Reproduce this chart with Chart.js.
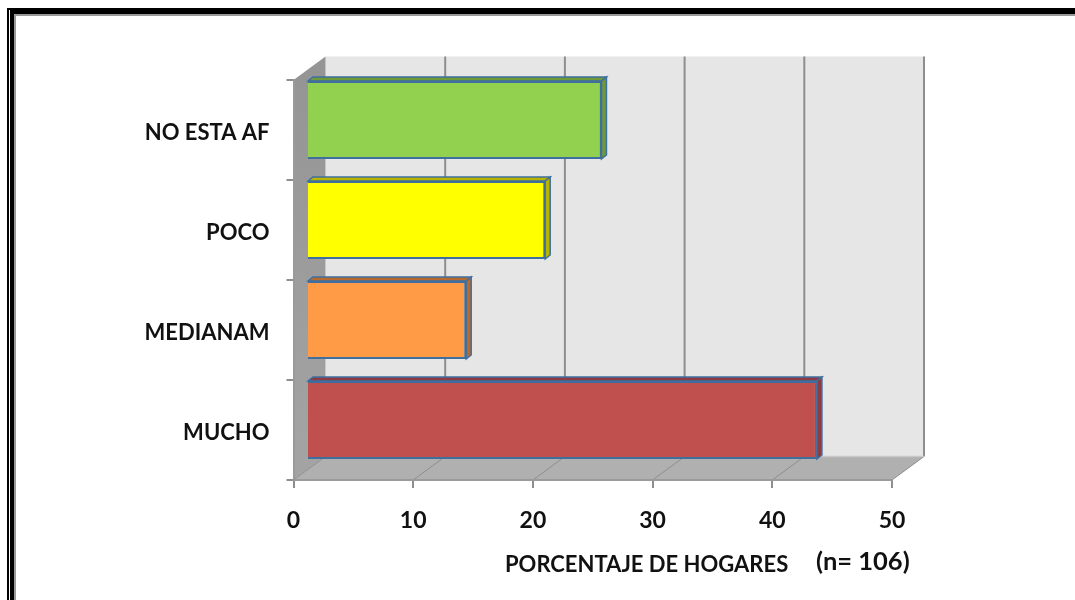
<!DOCTYPE html>
<html>
<head>
<meta charset="utf-8">
<title>Porcentaje de hogares</title>
<script src="https://cdn.jsdelivr.net/npm/chart.js@4"></script>
<style>
    html, body { margin: 0; padding: 0; background: #fff; overflow: hidden; }
    #wrap { position: relative; width: 1075px; height: 600px; }
    #wrap canvas { position: absolute; left: 0; top: 0; }
    .frame { position: absolute; }
</style>
</head>
<body>
<div id="wrap">
    <canvas id="chart" width="1075" height="600"></canvas>
    <!-- marco negro de la imagen -->
    <div class="frame" style="left:7px;top:8px;width:1068px;height:6px;background:#000"></div>
    <div class="frame" style="left:14px;top:14px;width:1061px;height:2px;background:#999"></div>
    <div class="frame" style="left:7px;top:8px;width:7px;height:592px;background:#000"></div>
    <div class="frame" style="left:9px;top:10px;width:1px;height:590px;background:#fff"></div>
    <div class="frame" style="left:14px;top:14px;width:2px;height:586px;background:#999"></div>
</div>
<script>
const categories = ['NO ESTA AF', 'POCO', 'MEDIANAM', 'MUCHO'];
const values = [24.6, 19.9, 13.3, 42.6];
const faceColors = ['#92D050', '#FFFF00', '#FF9A46', '#C0504D'];
const capColors = ['#6E9A38', '#B8B400', '#B86A2E', '#8C3A44'];
const xTicks = [0, 10, 20, 30, 40, 50];
const axisTitle = 'PORCENTAJE DE HOGARES';
const sampleNote = '(n= 106)';

const FONT = 'Lato, "Open Sans", sans-serif';
const wallDx = 32, wallDy = 23.5; // profundidad de las paredes
const barDx = 13.5, barDy = 10;   // las barras van a media profundidad
const capDx = 5, capDy = 4;       // grosor de la barra

function poly(ctx, pts, fill) {
    ctx.beginPath();
    pts.forEach(function (p, i) {
        if (i === 0) ctx.moveTo(p[0], p[1]); else ctx.lineTo(p[0], p[1]);
    });
    ctx.closePath();
    ctx.fillStyle = fill;
    ctx.fill();
}

const box3d = {
    id: 'box3d',
    beforeDraw(chart) {
        const ctx = chart.ctx, a = chart.chartArea, x = chart.scales.x;
        ctx.save();
        // pared del fondo
        poly(ctx, [[a.left + wallDx, a.top - wallDy], [a.right + wallDx, a.top - wallDy],
                   [a.right + wallDx, a.bottom - wallDy], [a.left + wallDx, a.bottom - wallDy]], '#E6E6E6');
        // pared izquierda
        let g = ctx.createLinearGradient(0, a.top, 0, a.bottom);
        g.addColorStop(0, '#959595');
        g.addColorStop(1, '#A4A4A4');
        poly(ctx, [[a.left, a.top], [a.left + wallDx, a.top - wallDy],
                   [a.left + wallDx, a.bottom - wallDy], [a.left, a.bottom]], g);
        // piso
        poly(ctx, [[a.left, a.bottom], [a.right, a.bottom],
                   [a.right + wallDx, a.bottom - wallDy], [a.left + wallDx, a.bottom - wallDy]], '#B0B0B0');

        // lineas de division en el fondo y en el piso
        ctx.strokeStyle = '#8E8E8E';
        xTicks.forEach(function (v) {
            const px = x.getPixelForValue(v);
            if (v > 0) {
                ctx.lineWidth = 2;
                ctx.beginPath();
                ctx.moveTo(px + wallDx, a.top - wallDy);
                ctx.lineTo(px + wallDx, a.bottom - wallDy);
                ctx.stroke();
            }
            ctx.lineWidth = 1;
            ctx.beginPath();
            ctx.moveTo(px, a.bottom);
            ctx.lineTo(px + wallDx, a.bottom - wallDy);
            ctx.stroke();
        });
        ctx.strokeStyle = '#C8C8C8';
        ctx.lineWidth = 1.5;
        ctx.beginPath();
        ctx.moveTo(a.left + wallDx, a.bottom - wallDy);
        ctx.lineTo(a.right + wallDx, a.bottom - wallDy);
        ctx.stroke();
        ctx.restore();
    },
    beforeDatasetDraw(chart) {
        chart.ctx.save();
        chart.ctx.translate(barDx, -barDy);
    },
    afterDatasetDraw(chart, args) {
        const ctx = chart.ctx;
        args.meta.data.forEach(function (bar, i) {
            const top = bar.y - bar.height / 2, bottom = bar.y + bar.height / 2;
            const topCap = [[bar.base, top], [bar.base + capDx, top - capDy], [bar.x + capDx, top - capDy], [bar.x, top]];
            const sideCap = [[bar.x, top], [bar.x + capDx, top - capDy], [bar.x + capDx, bottom - capDy], [bar.x, bottom]];
            [topCap, sideCap].forEach(function (pts) {
                poly(ctx, pts, capColors[i]);
                ctx.strokeStyle = '#3F6F9F';
                ctx.lineWidth = 1.5;
                ctx.stroke();
            });
        });
        ctx.restore();
    },
    afterDraw(chart) {
        const ctx = chart.ctx;
        ctx.save();
        ctx.fillStyle = '#111';
        ctx.textBaseline = 'middle';
        ctx.textAlign = 'left';
        ctx.font = 'bold 22px ' + FONT;
        ctx.fillText(axisTitle, 505, 565);
        ctx.font = 'bold 25.5px ' + FONT;
        ctx.fillText(sampleNote, 816, 562);
        ctx.restore();
    }
};

new Chart(document.getElementById('chart'), {
    type: 'bar',
    data: {
        labels: categories,
        datasets: [{
            label: 'Porcentaje de hogares',
            data: values,
            backgroundColor: faceColors,
            borderColor: '#3F6F9F',
            borderWidth: 2,
            barPercentage: 0.78,
            categoryPercentage: 1
        }]
    },
    options: {
        indexAxis: 'y',
        responsive: false,
        animation: false,
        layout: { padding: { left: 0, top: 80, right: 183, bottom: 0 } },
        plugins: {
            legend: { display: false },
            tooltip: { enabled: false }
        },
        scales: {
            x: {
                min: 0,
                max: 50,
                afterFit(scale) { scale.height = 120; },
                afterBuildTicks(scale) { scale.ticks = xTicks.map(function (v) { return { value: v }; }); },
                grid: { drawOnChartArea: false, color: '#8E8E8E', lineWidth: 2, tickLength: 8 },
                border: { color: '#9A9A9A', width: 2 },
                ticks: { padding: 19, maxRotation: 0, color: '#111', font: { family: FONT, size: 23, weight: 'bold' } }
            },
            y: {
                afterFit(scale) { scale.width = 293.5; },
                grid: { drawOnChartArea: false, color: '#8E8E8E', lineWidth: 2, tickLength: 7, offset: true },
                border: { color: '#9A9A9A', width: 2 },
                ticks: { padding: 17, labelOffset: 3, color: '#111', font: { family: FONT, size: 22, weight: 'bold' } }
            }
        }
    },
    plugins: [box3d]
});
</script>
</body>
</html>
